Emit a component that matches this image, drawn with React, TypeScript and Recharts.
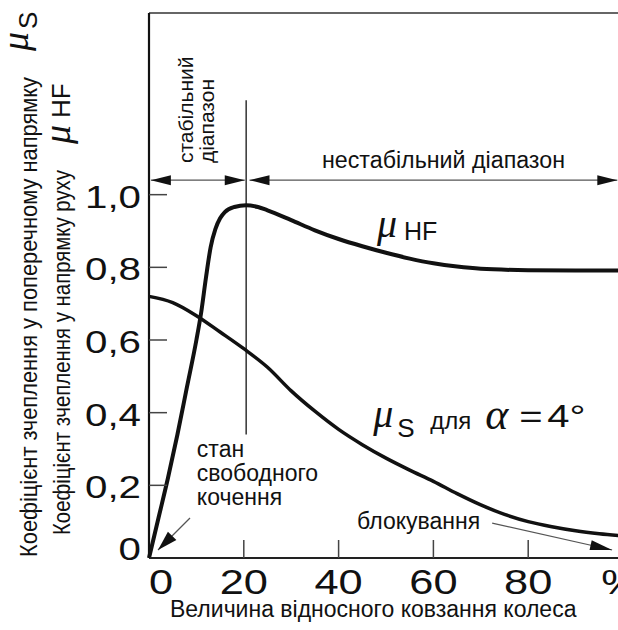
import React from 'react';
import { LineChart, Line, XAxis, YAxis, ReferenceLine, ReferenceDot } from 'recharts';

// μHF – longitudinal grip vs. slip
const slipHF = [0, 2, 4, 6, 8, 10, 11, 12, 13, 14, 15, 16, 18, 20.5, 23, 25, 30, 35, 40, 45, 50, 55, 60, 65, 70, 80, 90, 100];
const muHF = [0, 0.11, 0.22, 0.34, 0.47, 0.6, 0.675, 0.77, 0.855, 0.905, 0.935, 0.952, 0.966, 0.971, 0.966, 0.957, 0.93, 0.902, 0.878, 0.858, 0.84, 0.824, 0.811, 0.802, 0.796, 0.792, 0.791, 0.791];

// μS – lateral grip for α = 4°
const slipS = [0, 5, 10, 15, 20, 25, 30, 35, 40, 45, 50, 55, 60, 65, 70, 75, 80, 85, 90, 95, 100];
const muS = [0.72, 0.703, 0.667, 0.622, 0.576, 0.525, 0.46, 0.404, 0.354, 0.312, 0.275, 0.242, 0.211, 0.177, 0.146, 0.12, 0.1, 0.086, 0.075, 0.067, 0.061];

const xTicks = [0, 20, 40, 60, 80, 99.5];
const yTicks = [0, 0.2, 0.4, 0.6, 0.8, 1.0];

const hfData = slipHF.map((x, i) => ({ x, v: muHF[i] }));
const sData = slipS.map((x, i) => ({ x, v: muS[i] }));

const SANS = "'Liberation Sans', Arial, Helvetica, sans-serif";
const SERIF = "'Liberation Serif', 'Times New Roman', serif";
const INK = '#111';

const YTick = (props: any) => {
  const { x, y, payload } = props;
  const v = payload.value as number;
  const label = v === 0 ? '0' : v.toFixed(1).replace('.', ',');
  return (
    <g>
      {v !== 0 && <line x1={x} y1={y} x2={x + 18} y2={y} stroke="#444" strokeWidth={1.5} />}
      <text
        transform={`translate(${x - 8},${y + (v === 0 ? 2 : 13)}) scale(1.3,1)`}
        textAnchor="end" fontSize={31} fontFamily={SANS} fill={INK}
      >{label}</text>
    </g>
  );
};

const XTick = (props: any) => {
  const { x, y, payload } = props;
  const v = payload.value as number;
  const label = v > 90 ? '%' : String(v);
  return (
    <g>
      {v > 0 && v < 90 && <line x1={x} y1={y} x2={x} y2={y - 18} stroke="#444" strokeWidth={1.5} />}
      <text
        transform={`translate(${x + (v === 0 ? 12 : 0)},${y + 36}) scale(1.24,1)`}
        textAnchor="middle" fontSize={35} fontFamily={SANS} fill={INK}
      >{label}</text>
    </g>
  );
};

// line with filled arrow heads
const arrow = (start: boolean, end: boolean, len = 20, half = 5, stroke = '#555', width = 1.2) => (p: any) => {
  const { x1, y1, x2, y2 } = p;
  const L = Math.hypot(x2 - x1, y2 - y1) || 1;
  const ux = (x2 - x1) / L;
  const uy = (y2 - y1) / L;
  const head = (tx: number, ty: number, dx: number, dy: number) => {
    const bx = tx - dx * len;
    const by = ty - dy * len;
    const pts = `${tx},${ty} ${bx - dy * half},${by + dx * half} ${bx + dy * half},${by - dx * half}`;
    return <polygon points={pts} fill={INK} />;
  };
  return (
    <g>
      <line x1={x1} y1={y1} x2={x2} y2={y2} stroke={stroke} strokeWidth={width} />
      {start && head(x1, y1, -ux, -uy)}
      {end && head(x2, y2, ux, uy)}
    </g>
  );
};

const note = (render: (cx: number, cy: number) => React.ReactNode) => (p: any) => <g>{render(p.cx, p.cy)}</g>;

const YTitle = (props: any) => {
  const vb = props.viewBox || { x: 0, y: 13, width: 149, height: 545 };
  const bottom = vb.y + vb.height;
  return (
    <g fill={INK}>
      <text transform={`translate(${vb.x + 37},${bottom - 1}) rotate(-90)`} fontSize={23} fontFamily={SANS} textLength={480} lengthAdjust="spacingAndGlyphs">
        Коефіцієнт зчеплення  у поперечному напрямку
      </text>
      <text transform={`translate(${vb.x + 70},${bottom - 23}) rotate(-90)`} fontSize={23} fontFamily={SANS} textLength={365} lengthAdjust="spacingAndGlyphs">
        Коефіцієнт зчеплення у напрямку руху
      </text>
      <g transform={`translate(${vb.x + 37},${vb.y + 38}) rotate(-90)`}>
        <text x={0} y={-9} fontSize={38} fontFamily={SERIF} fontStyle="italic">μ</text>
        <text x={22} y={0} fontSize={26} fontFamily={SANS}>S</text>
      </g>
      <g transform={`translate(${vb.x + 70},${vb.y + 131}) rotate(-90)`}>
        <text x={0} y={0} fontSize={38} fontFamily={SERIF} fontStyle="italic">μ</text>
        <text x={26} y={0} fontSize={26} fontFamily={SANS}>HF</text>
      </g>
    </g>
  );
};

const XTitle = (props: any) => {
  const vb = props.viewBox || { x: 149, y: 558, width: 474, height: 72 };
  return (
    <text x={vb.x + 21} y={vb.y + 59} fontSize={23} fontFamily={SANS} fill={INK}>
      Величина відносного ковзання колеса
    </text>
  );
};

export default function App() {
  return (
    <div style={{ position: 'absolute', left: 0, top: 0, width: 618, height: 630, overflow: 'hidden', background: '#fff' }}>
      <LineChart width={640} height={630} margin={{ top: 13, right: 17, bottom: 0, left: 0 }}>
        <XAxis
          dataKey="x" type="number" domain={[0, 100]} ticks={xTicks} interval={0}
          tickSize={0} tickMargin={0} tick={<XTick />} height={72}
          axisLine={{ stroke: '#222', strokeWidth: 2 }}
          label={{ content: (p: any) => <XTitle {...p} /> }}
        />
        <YAxis
          type="number" domain={[0, 1.5]} ticks={yTicks} interval={0}
          tickSize={0} tickMargin={0} tick={<YTick />} width={149}
          axisLine={{ stroke: '#111', strokeWidth: 2.2 }}
          label={{ content: (p: any) => <YTitle {...p} /> }}
        />

        {/* frame top */}
        <ReferenceLine y={1.5} stroke="#333" strokeWidth={1.5} />
        {/* stable / unstable range */}
        <ReferenceLine segment={[{ x: 20.5, y: 0.34 }, { x: 20.5, y: 1.26 }]} shape={arrow(false, false, 0, 0, '#333', 1.5)} />
        <ReferenceLine segment={[{ x: 0.4, y: 1.04 }, { x: 20.2, y: 1.04 }]} shape={arrow(true, true)} />
        <ReferenceLine segment={[{ x: 21.2, y: 1.04 }, { x: 98.8, y: 1.04 }]} shape={arrow(true, true)} />
        {/* pointers */}
        <ReferenceLine segment={[{ x: 8.65, y: 0.11 }, { x: 1.9, y: 0.022 }]} shape={arrow(false, true, 20, 6)} />
        <ReferenceLine segment={[{ x: 72.4, y: 0.096 }, { x: 97.7, y: 0.022 }]} shape={arrow(false, true, 22, 5)} />

        <Line data={sData} dataKey="v" type="monotone" stroke={INK} strokeWidth={3.5} dot={false} isAnimationActive={false} />
        <Line data={hfData} dataKey="v" type="monotone" stroke={INK} strokeWidth={4} dot={false} isAnimationActive={false} />

        <ReferenceDot x={36.5} y={1.073} r={0} shape={note((cx, cy) => (
          <text x={cx} y={cy} fontSize={23} fontFamily={SANS} fill={INK} textLength={243} lengthAdjust="spacingAndGlyphs">нестабільний діапазон</text>
        ))} />
        <ReferenceDot x={9.3} y={1.087} r={0} shape={note((cx, cy) => (
          <g fill={INK} fontSize={21} fontFamily={SANS}>
            <text transform={`translate(${cx},${cy}) rotate(-90)`}>стабільний</text>
            <text transform={`translate(${cx + 21},${cy}) rotate(-90)`}>діапазон</text>
          </g>
        ))} />
        <ReferenceDot x={48.1} y={0.883} r={0} shape={note((cx, cy) => (
          <g fill={INK}>
            <text x={cx} y={cy} fontSize={40} fontFamily={SERIF} fontStyle="italic">μ</text>
            <text x={cx + 27} y={cy + 3} fontSize={25} fontFamily={SANS}>HF</text>
          </g>
        ))} />
        <ReferenceDot x={47.3} y={0.36} r={0} shape={note((cx, cy) => (
          <g fill={INK}>
            <text x={cx} y={cy} fontSize={40} fontFamily={SERIF} fontStyle="italic">μ</text>
            <text x={cx + 24} y={cy + 10} fontSize={26} fontFamily={SANS}>S</text>
            <text x={cx + 57} y={cy + 2} fontSize={24} fontFamily={SANS}>для</text>
            <text x={cx + 112} y={cy + 2} fontSize={44} fontFamily={SERIF} fontStyle="italic">α</text>
            <text transform={`translate(${cx + 146},${cy}) scale(1.25,1)`} fontSize={32} fontFamily={SANS}>=</text>
            <text transform={`translate(${cx + 174},${cy}) scale(1.25,1)`} fontSize={32} fontFamily={SANS}>4°</text>
          </g>
        ))} />
        <ReferenceDot x={10.1} y={0.278} r={0} shape={note((cx, cy) => (
          <text x={cx} y={cy} fontSize={23} fontFamily={SANS} fill={INK}>
            <tspan x={cx}>стан</tspan>
            <tspan x={cx} dy={24}>свободного</tspan>
            <tspan x={cx} dy={24}>кочення</tspan>
          </text>
        ))} />
        <ReferenceDot x={43.9} y={0.08} r={0} shape={note((cx, cy) => (
          <text x={cx} y={cy} fontSize={23} fontFamily={SANS} fill={INK}>блокування</text>
        ))} />
      </LineChart>
    </div>
  );
}
